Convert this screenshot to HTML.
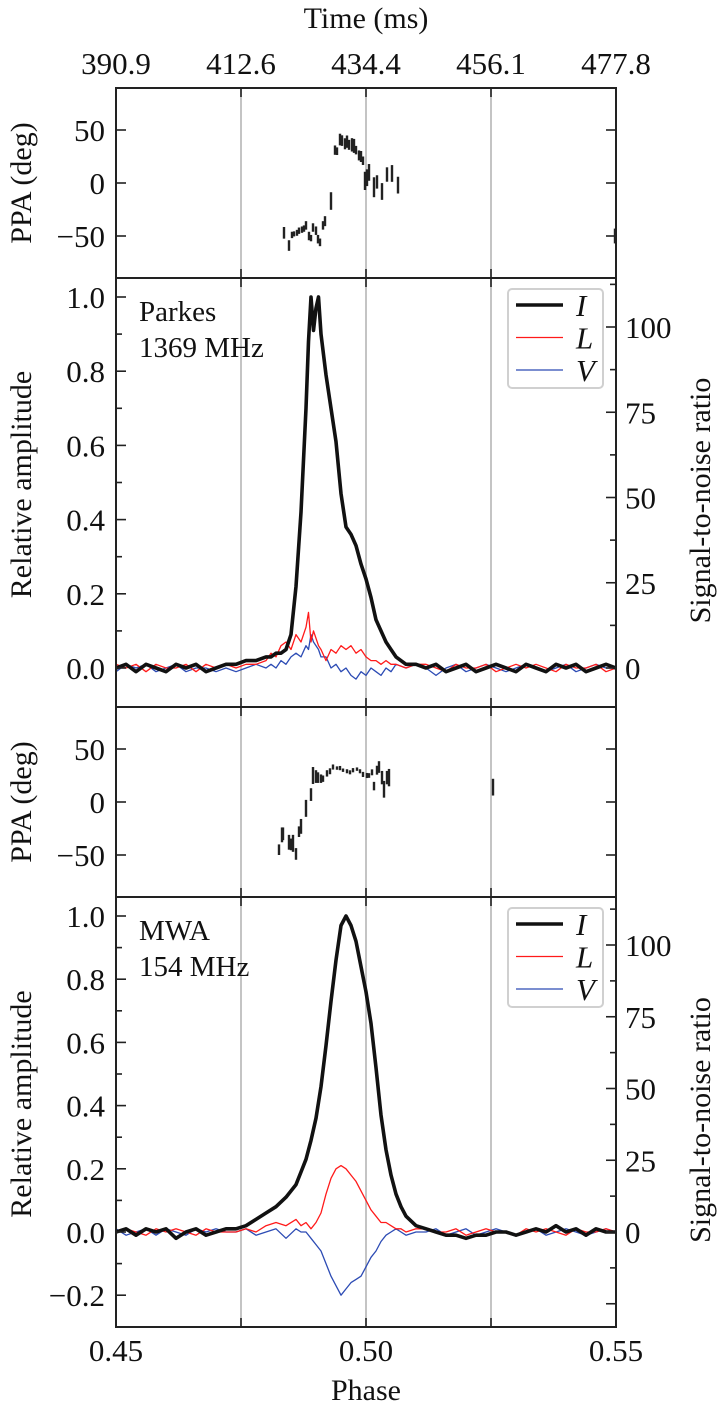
<!DOCTYPE html>
<html><head><meta charset="utf-8"><style>
html,body{margin:0;padding:0;background:#fff;}
svg{display:block;}
svg text{font-family:"Liberation Serif","DejaVu Serif",serif;}
</style></head><body>
<svg id="fig" width="720" height="1406" viewBox="0 0 720 1406" xmlns="http://www.w3.org/2000/svg" font-family="Liberation Serif, serif"></svg>
<script>
// ---------- data ----------
const timeTickLabels = ["390.9","412.6","434.4","456.1","477.8"];
const phaseTicks = [0.45,0.475,0.50,0.525,0.55];
const phaseTickLabels = ["0.45","","0.50","","0.55"];
const guidePhases = [0.475,0.50,0.525];

// Parkes PPA
const ppa1Phase = [0.4836,0.4846,0.4852,0.4856,0.4862,0.4866,0.4872,0.4876,0.4880,0.4886,0.4890,0.4894,0.4900,0.4904,0.4908,0.4914,0.4918,0.4930,0.4938,0.4942,0.4948,0.4952,0.4958,0.4962,0.4966,0.4972,0.4976,0.4980,0.4986,0.4990,0.4994,0.4998,0.5002,0.5006,0.5016,0.5022,0.5032,0.5042,0.5052,0.5064,0.5499];
const ppa1Value = [-47,-59,-49,-48,-47,-45,-44,-43,-40,-50,-52,-42,-45,-53,-56,-40,-36,-17,31,30,41,40,37,39,36,36,35,31,26,25,21,2,5,10,-4,1,-8,8,9,-2,-50];
const ppa1Err = [5.5,5,3,2.4,2.8,3,3,3,4,4,3,4,4,4,3.6,4,4.7,8.3,4.4,3.6,5.5,5,5.2,5.8,4.7,6.3,6.6,4,4.7,5.2,4,8.6,7.9,7.9,9.4,6.3,7.9,6.8,7.9,7.9,7];

// MWA PPA
const ppa3Phase = [0.4826,0.4832,0.4834,0.4846,0.4850,0.4854,0.4860,0.4866,0.4870,0.4880,0.4890,0.4894,0.4900,0.4904,0.4910,0.4914,0.4922,0.4928,0.4934,0.4942,0.4948,0.4954,0.4962,0.4968,0.4974,0.4982,0.4988,0.4994,0.5002,0.5006,0.5012,0.5016,0.5022,0.5026,0.5032,0.5036,0.5042,0.5046,0.5254];
const ppa3Value = [-45,-31,-30,-38,-40,-39,-49,-28,-23,-6,7,25,24,23,22,22,27,29,33,32,32,30,29,28,30,31,29,26,25,25,28,15,30,33,23,12,23,23,14];
const ppa3Err = [5,7,6,7,5.5,8,5.5,5,7,8,6,8,6,5,4,3,3,2.8,2.4,1.6,2,1.6,1.9,1.9,2,1.6,1.9,2.4,2.4,2.2,2.8,4,4.2,5.5,6.3,7.9,6.3,8.2,7.9];

// Parkes profile
const prof2Phase = [0.450,0.452,0.454,0.456,0.458,0.460,0.462,0.464,0.466,0.468,0.470,0.472,
 0.474,0.476,0.478,0.480,0.481,0.482,0.483,0.484,0.485,0.486,0.487,0.488,0.4885,0.489,0.4895,0.490,0.4905,0.491,0.492,0.493,0.494,0.495,0.496,0.497,0.498,0.499,0.500,0.501,0.502,0.503,0.504,0.505,0.506,0.508,0.510,
 0.512,0.514,0.516,0.518,0.520,0.522,0.524,0.526,0.528,0.530,0.532,0.534,0.536,0.538,0.540,0.542,0.544,0.546,0.548,0.550];
const prof2I = [0.00,0.01,-0.01,0.01,0.00,-0.01,0.01,0.00,0.01,-0.01,0.00,0.01,
 0.01,0.02,0.02,0.03,0.03,0.04,0.04,0.05,0.09,0.22,0.42,0.70,0.88,1.0,0.91,0.97,1.0,0.90,0.79,0.70,0.61,0.47,0.38,0.36,0.33,0.28,0.24,0.19,0.13,0.10,0.07,0.05,0.03,0.01,0.01,
 0.00,0.01,-0.01,0.00,0.01,-0.01,0.00,0.01,0.00,-0.01,0.01,0.00,-0.01,0.01,0.00,0.01,-0.01,0.00,0.01,0.00];
const prof2L = [0.01,0.00,0.01,-0.01,0.01,0.00,0.00,0.01,-0.01,0.01,0.00,0.01,
 0.00,0.01,0.01,0.02,0.04,0.03,0.06,0.07,0.05,0.09,0.07,0.11,0.15,0.07,0.10,0.08,0.06,0.05,0.02,0.05,0.04,0.06,0.05,0.06,0.04,0.05,0.03,0.02,0.02,0.01,0.02,0.01,0.01,0.00,0.01,
 0.01,0.00,-0.01,0.01,0.00,0.00,0.01,-0.01,0.00,0.01,0.00,0.01,0.00,-0.01,0.01,0.00,0.00,0.01,-0.01,0.00];
const prof2V = [-0.01,0.01,0.00,0.01,-0.01,0.00,0.01,-0.01,0.00,0.00,-0.01,0.00,
 -0.01,0.00,0.01,0.00,0.01,0.00,0.02,0.01,0.03,0.04,0.03,0.06,0.05,0.09,0.07,0.06,0.05,0.03,0.03,0.00,0.01,-0.01,0.00,-0.02,-0.03,-0.01,-0.02,0.00,-0.01,-0.02,0.00,-0.01,0.01,0.00,0.01,
 0.00,-0.02,0.00,0.01,-0.01,0.00,0.01,0.00,-0.01,0.00,0.01,0.00,-0.01,0.00,0.01,-0.01,0.00,0.01,0.00,0.00];

// MWA profile
const prof4Phase = [0.450,0.452,0.454,0.456,0.458,0.460,0.462,0.464,0.466,0.468,0.470,0.472,
 0.474,0.476,0.478,0.480,0.482,0.484,0.486,0.487,0.488,0.489,0.490,0.491,0.492,0.493,0.494,0.495,0.496,0.497,0.498,0.499,0.500,0.501,0.502,0.503,0.504,0.505,0.506,0.507,0.508,0.510,
 0.512,0.514,0.516,0.518,0.520,0.522,0.524,0.526,0.528,0.530,0.532,0.534,0.536,0.538,0.540,0.542,0.544,0.546,0.548,0.550];
const prof4I = [0.00,0.01,-0.01,0.01,0.00,0.01,-0.02,0.00,0.01,-0.01,0.00,0.01,
 0.01,0.02,0.04,0.06,0.08,0.11,0.15,0.19,0.23,0.29,0.36,0.46,0.59,0.73,0.86,0.97,1.0,0.97,0.92,0.84,0.76,0.66,0.52,0.37,0.26,0.18,0.12,0.08,0.05,0.02,
 0.01,0.00,-0.01,-0.01,-0.02,-0.01,-0.01,0.00,0.00,-0.01,0.00,0.01,0.00,0.02,0.00,0.01,-0.01,0.01,0.00,0.00];
const prof4L = [0.00,0.01,0.00,-0.01,0.01,0.00,0.01,0.00,-0.01,0.01,0.00,0.00,
 0.00,0.01,0.00,0.02,0.03,0.02,0.04,0.02,0.03,0.01,0.03,0.06,0.12,0.17,0.20,0.21,0.20,0.18,0.16,0.13,0.10,0.07,0.05,0.03,0.03,0.02,0.01,0.01,0.00,0.01,
 0.01,0.00,0.00,0.01,-0.01,0.00,0.01,0.00,0.00,-0.01,0.01,0.00,0.01,0.00,-0.01,0.01,0.00,0.00,0.01,0.00];
const prof4V = [0.01,-0.01,0.00,0.01,-0.01,0.01,0.00,-0.01,0.01,0.00,0.01,0.00,
 0.00,0.01,-0.01,0.00,0.01,-0.02,0.01,0.00,0.00,-0.02,-0.04,-0.06,-0.10,-0.14,-0.17,-0.20,-0.18,-0.16,-0.15,-0.14,-0.11,-0.08,-0.06,-0.03,-0.01,0.00,0.01,0.00,-0.01,0.00,
 0.00,0.01,-0.01,0.00,0.01,-0.01,0.00,0.01,0.00,-0.01,0.00,0.01,-0.01,0.00,0.01,0.00,-0.01,0.00,0.01,0.00];

const ampTicks = [-0.2,0.0,0.2,0.4,0.6,0.8,1.0];
const ampTickLabels = ["\u22120.2","0.0","0.2","0.4","0.6","0.8","1.0"];
const snrTicks = [0,25,50,75,100];
const snrTickLabels = ["0","25","50","75","100"];
const ppaTicks = [-50,0,50];
const ppaTickLabels = ["\u221250","0","50"];

// ---------- layout ----------
const NS = "http://www.w3.org/2000/svg";
const FONT = "Liberation Serif, DejaVu Serif, serif";
const svg = document.getElementById("fig");
const X0 = 116, X1 = 616;
const xS = p => X0 + (p - 0.45) * 5000;
const panels = {
  ppa1: {top:88, bot:278, y: v => 183 - 1.06*v},
  prof2:{top:278, bot:707, y: v => 668 - 371*v, ys: s => 668 - 3.41*s},
  ppa3: {top:707, bot:897, y: v => 802 - 1.06*v},
  prof4:{top:897, bot:1327, y: v => 1232 - 316*v, ys: s => 1232 - 2.87*s}
};
function el(tag, attrs, parent) {
  const e = document.createElementNS(NS, tag);
  for (const k in attrs) e.setAttribute(k, attrs[k]);
  (parent || svg).appendChild(e);
  return e;
}
function txt(s, attrs, parent) {
  attrs["font-family"] = FONT;
  const t = el("text", attrs, parent); t.textContent = s; return t;
}

const defs = el("defs", {});
for (const k in panels) {
  const P = panels[k];
  const cp = el("clipPath", {id: "clip-" + k}, defs);
  el("rect", {x: X0, y: P.top, width: X1 - X0, height: P.bot - P.top}, cp);
}

function drawGuides(k) {
  const P = panels[k];
  const g = el("g", {});
  
  
  guidePhases.forEach(p => {
    el("line", {x1: xS(p), x2: xS(p), y1: P.top, y2: P.bot, stroke: "#bdbdbd", "stroke-width": 1.8}, g);
  });
}
function drawXTicks(k) {
  const P = panels[k];
  const g = el("g", {stroke: "#222", "stroke-width": 1.6});
  
  
  phaseTicks.forEach(p => {
    el("line", {x1: xS(p), x2: xS(p), y1: P.top, y2: P.top + 9}, g);
    el("line", {x1: xS(p), x2: xS(p), y1: P.bot, y2: P.bot - 9}, g);
  });
}
function drawFrame(k) {
  const P = panels[k];
  const r = el("rect", {x: X0, y: P.top, width: X1 - X0, height: P.bot - P.top, fill: "none", stroke: "#222", "stroke-width": 2});
  
  
}
function drawPPA(k, ph, val, err) {
  const P = panels[k];
  const g = el("g", {"clip-path": "url(#clip-" + k + ")", stroke: "#222", "stroke-width": 2.4});
  
  
  for (let i = 0; i < ph.length; i++) {
    const x = Math.min(xS(ph[i]), X1 - 1);
    const ln = el("line", {x1: x, x2: x, y1: P.y(val[i] + err[i]), y2: P.y(val[i] - err[i])}, g);
    
    
  }
  const tg = el("g", {});
  
  
  ppaTicks.forEach((v, i) => {
    const y = P.y(v);
    el("line", {x1: X0, x2: X0 + 10, y1: y, y2: y, stroke: "#222", "stroke-width": 1.6}, tg);
    el("line", {x1: X1, x2: X1 - 10, y1: y, y2: y, stroke: "#222", "stroke-width": 1.6}, tg);
    txt(ppaTickLabels[i], {x: 105, y: y + 11, "text-anchor": "end", "font-size": 31, fill: "#111"}, tg);
  });
  const yl = txt("PPA (deg)", {x: 0, y: 0, "font-size": 30, "text-anchor": "middle", fill: "#111",
    transform: "translate(31," + ((P.top + P.bot) / 2) + ") rotate(-90)"});
  
  
}
function pathD(ph, vals, yf) {
  return ph.map((p, i) => (i ? "L" : "M") + xS(p).toFixed(1) + " " + yf(vals[i]).toFixed(1)).join(" ");
}
function drawProfile(k, ph, I, L, V, label1, label2) {
  const P = panels[k];
  const g = el("g", {"clip-path": "url(#clip-" + k + ")", fill: "none", "stroke-linejoin": "round"});
  
  
  const lv = el("path", {d: pathD(ph, V, P.y), stroke: "#2c4bb4", "stroke-width": 1.3}, g);
  
  
  const ll = el("path", {d: pathD(ph, L, P.y), stroke: "#ff1a1a", "stroke-width": 1.3}, g);
  
  
  const li = el("path", {d: pathD(ph, I, P.y), stroke: "#111", "stroke-width": 3.6}, g);
  
  

  const tg = el("g", {stroke: "#222", "stroke-width": 1.6});
  
  
  for (let m = -3; m <= 10; m++) {
    const v = m / 10; const y = P.y(v);
    if (y < P.top + 2 || y > P.bot - 2) continue;
    el("line", {x1: X0, x2: X0 + (m % 2 === 0 ? 10 : 6), y1: y, y2: y}, tg);
  }
  ampTicks.forEach((v, i) => {
    const y = P.y(v);
    if (y < P.top || y > P.bot) return;
    txt(ampTickLabels[i], {x: 105, y: y + 11, "text-anchor": "end", "font-size": 31, fill: "#111", stroke: "none"}, tg);
  });
  const rg = el("g", {stroke: "#222", "stroke-width": 1.6});
  
  
  for (let m = -2; m <= 9; m++) {
    const s = m * 12.5; const y = P.ys(s);
    if (y < P.top + 2 || y > P.bot - 2) continue;
    el("line", {x1: X1, x2: X1 - (m % 2 === 0 ? 10 : 6), y1: y, y2: y}, rg);
  }
  snrTicks.forEach((s, i) => {
    txt(snrTickLabels[i], {x: 625, y: P.ys(s) + 11, "font-size": 31, fill: "#111", stroke: "none"}, rg);
  });
  const cy = (P.top + P.bot) / 2;
  const yl = txt("Relative amplitude", {x: 0, y: 0, "font-size": 30, "text-anchor": "middle", fill: "#111",
    transform: "translate(31," + (cy - 8) + ") rotate(-90)"});
  
  
  const yr = txt("Signal-to-noise ratio", {x: 0, y: 0, "font-size": 30, "text-anchor": "middle", fill: "#111",
    transform: "translate(710," + (cy + 8) + ") rotate(-90)"});
  
  

  const an = el("g", {});
  
  
  txt(label1, {x: 139, y: P.top + 43, "font-size": 29, fill: "#111"}, an);
  txt(label2, {x: 139, y: P.top + 79, "font-size": 29, fill: "#111"}, an);

  const lg = el("g", {});
  
  
  el("rect", {x: 508, y: P.top + 11, width: 95, height: 99, rx: 4, fill: "#fff", stroke: "#d0d0d0", "stroke-width": 2}, lg);
  const items = [["I", "#111", 3.6], ["L", "#ff1a1a", 1.3], ["V", "#2c4bb4", 1.3]];
  items.forEach((it, i) => {
    const y = P.top + 27 + i * 32.5;
    const ent = el("g", {}, lg);
    
    
    el("line", {x1: 516, x2: 563, y1: y, y2: y, stroke: it[1], "stroke-width": it[2]}, ent);
    txt(it[0], {x: 576, y: y + 11, "font-size": 31, "font-style": "italic", fill: "#111"}, ent);
  });
}

["ppa1","prof2","ppa3","prof4"].forEach(k => drawGuides(k));
drawPPA("ppa1", ppa1Phase, ppa1Value, ppa1Err);
drawProfile("prof2", prof2Phase, prof2I, prof2L, prof2V, "Parkes", "1369 MHz");
drawPPA("ppa3", ppa3Phase, ppa3Value, ppa3Err);
drawProfile("prof4", prof4Phase, prof4I, prof4L, prof4V, "MWA", "154 MHz");
["ppa1","prof2","ppa3","prof4"].forEach(k => { drawXTicks(k); drawFrame(k); });

const ta = el("g", {});


phaseTicks.forEach((p, i) => {
  txt(timeTickLabels[i], {x: xS(p), y: 74, "text-anchor": "middle", "font-size": 31, fill: "#111"}, ta);
});
const tt = txt("Time (ms)", {x: 366, y: 28, "text-anchor": "middle", "font-size": 30, fill: "#111"});



const ba = el("g", {});


phaseTicks.forEach((p, i) => {
  if (phaseTickLabels[i]) txt(phaseTickLabels[i], {x: xS(p), y: 1361, "text-anchor": "middle", "font-size": 31, fill: "#111"}, ba);
});
const bt = txt("Phase", {x: 366, y: 1400, "text-anchor": "middle", "font-size": 30, fill: "#111"});


</script>
</body></html>
